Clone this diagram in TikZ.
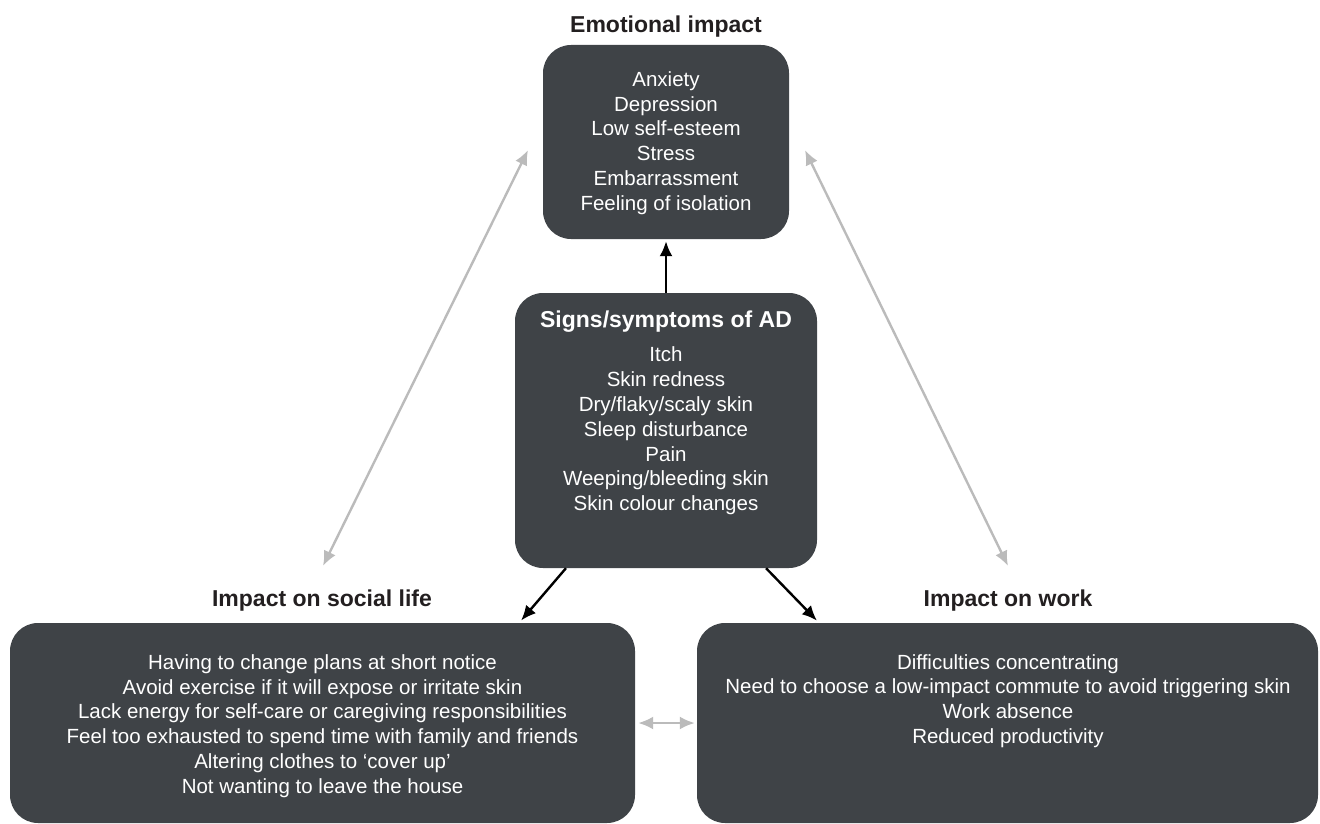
\documentclass[tikz,border=0pt]{standalone}
\usepackage{fontspec}
\setmainfont{Liberation Sans}
\usepackage{tikz}
\usetikzlibrary{arrows.meta,positioning,shapes}
\definecolor{boxgrey}{HTML}{3F4347}
\definecolor{linkgrey}{HTML}{BBBBBB}
\definecolor{headblack}{HTML}{231F20}

\begin{document}
\begin{tikzpicture}[x=1pt,y=-1pt,
            box/.style={fill=boxgrey,rounded corners=28pt,inner sep=0pt},
            items/.style={text=white,align=center,font=\fontsize{20.5}{24.8}\selectfont},
            head/.style={text=headblack,font=\fontsize{23}{27}\selectfont\bfseries},
            dark/.style={draw=black,line width=2.4pt,-{Latex[length=15pt,width=13pt]}},
            light/.style={draw=linkgrey,line width=2.4pt,{Latex[length=15pt,width=13pt]}-{Latex[length=15pt,width=13pt]}}
          ]
          \useasboundingbox (0,0) rectangle (1320,824);

          %boxes
          \node[box,minimum width=246pt,minimum height=194pt] (emo) at (666,142) {};
          \node[box,minimum width=302pt,minimum height=275pt] (sign) at (666,430.5) {};
          \node[box,minimum width=625pt,minimum height=200pt] (soc) at (322.5,723) {};
          \node[box,minimum width=621pt,minimum height=200pt] (work) at (1007.5,723) {};

          %headings
          \node[head] (emoT) at (666,26.5) {Emotional impact};
          \node[head] (socT) at (322,600.5) {Impact on social life};
          \node[head] (workT) at (1008,600.5) {Impact on work};
          \node[head,text=white] (signT) at (666,322) {Signs/symptoms of AD};

          %box contents
          \node[items] (emoL) at (666,143) {Anxiety\\Depression\\Low self-esteem\\Stress\\Embarrassment\\Feeling of isolation};
          \node[items] (signL) at (666,431) {Itch\\Skin redness\\Dry/flaky/scaly skin\\Sleep disturbance\\Pain\\Weeping/bleeding skin\\Skin colour changes};
          \node[items] (socL) at (322.5,726) {Having to change plans at short notice\\Avoid exercise if it will expose or irritate skin\\Lack energy for self-care or caregiving responsibilities\\Feel too exhausted to spend time with family and friends\\Altering clothes to `cover up'\\Not wanting to leave the house};
          \node[items] (workL) at (1008,701) {Difficulties concentrating\\Need to choose a low-impact commute to avoid triggering skin\\Work absence\\Reduced productivity};

          %free ends of the grey links
          \coordinate (gl1) at (528,150);
          \coordinate (gl2) at (323,566);
          \coordinate (gr1) at (805,150);
          \coordinate (gr2) at (1008,566);

          %links
          \path
          (sign.north) edge[dark,shorten >=2pt] (emo.south)
          (sign.234) edge[dark,shorten >=3pt] (soc.27)
          (sign.306) edge[dark,shorten >=3pt] (work.152)
          (gl1) edge[light] (gl2)
          (gr1) edge[light] (gr2)
          (soc.east) edge[light,shorten <=3pt,shorten >=2pt] (work.west)
          ;

      \end{tikzpicture}
\end{document}
